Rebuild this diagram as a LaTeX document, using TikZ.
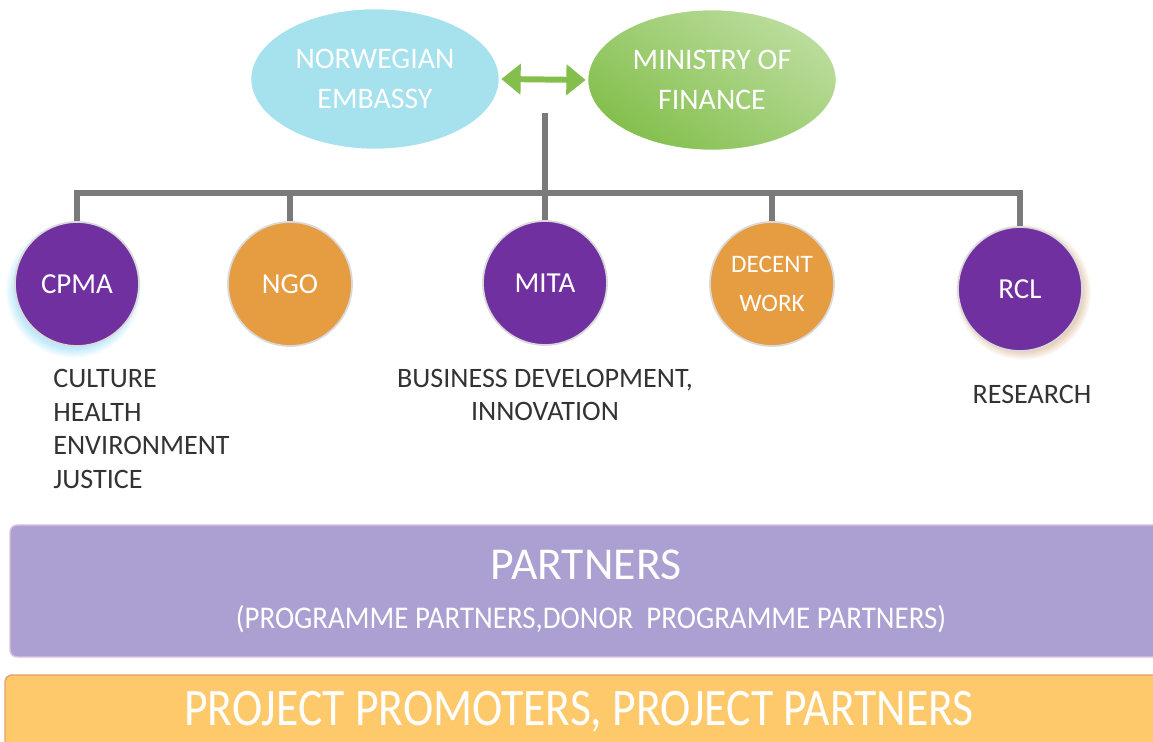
\documentclass[tikz,border=0pt]{standalone}
\usepackage{fontspec}
\setmainfont{Carlito}
\usepackage{graphicx}
\usepackage{tikz}
\usetikzlibrary{calc,positioning,arrows.meta,shapes,shadows}

\definecolor{embassyblue}{HTML}{A6E1EE}
\definecolor{financegreen}{HTML}{93C865}
\definecolor{financelight}{HTML}{BBDD9D}
\definecolor{financedark}{HTML}{84BF4D}
\definecolor{orgpurple}{HTML}{7030A0}
\definecolor{orgorange}{HTML}{E69C40}
\definecolor{linegray}{HTML}{7A7A7A}
\definecolor{partnerlilac}{HTML}{ABA0D1}
\definecolor{promoteryellow}{HTML}{FEC96B}
\definecolor{labelgray}{HTML}{333333}

\tikzset{
  topoval/.style={ellipse,minimum width=250*0.02cm,minimum height=142*0.02cm,
    draw=white,line width=1.5pt,text=white,align=center,
    font=\fontsize{17}{23}\selectfont},
  orgcircle/.style={circle,minimum size=124*0.02cm,inner sep=0pt,
    draw=white!85!black,line width=1pt,text=white,align=center,
    font=\fontsize{16.5}{22}\selectfont},
  conn/.style={draw=linegray,line width=3.4pt},
  sublabel/.style={text=labelgray,inner xsep=0pt,font=\fontsize{16}{19.3}\selectfont},
  band/.style={rounded corners=4pt,line width=0.8pt,text=white}
}

\begin{document}
\begin{tikzpicture}[x=0.02cm,y=-0.02cm]
\useasboundingbox (0,0) rectangle (1153,742);

% top level
\node at (375,79)  (embassy) [topoval,fill=embassyblue]{NORWEGIAN\\EMBASSY};
\node at (712,80)  (finance) [topoval,top color=financelight,
  bottom color=financedark,shading angle=-35]{MINISTRY OF\\FINANCE};
\draw[draw=financedark,line width=3.4pt,
  {Triangle[width=17pt,length=11pt]}-{Triangle[width=17pt,length=11pt]}]
  (embassy.east) -- (finance.west);

% programme operators
\node at (77,284)   (cpma)   [orgcircle,fill=orgpurple,
                              circular drop shadow={fill=cyan!25,shadow xshift=-2pt,
                              shadow yshift=-3pt}]{CPMA};
\node at (290,284)  (ngo)    [orgcircle,fill=orgorange]{NGO};
\node at (545,283)  (mita)   [orgcircle,fill=orgpurple]{MITA};
\node at (772,284)  (decent) [orgcircle,fill=orgorange,
                              font=\fontsize{14.3}{22}\selectfont]{DECENT\\WORK};
\node at (1020,289) (rcl)    [orgcircle,fill=orgpurple,
                              circular drop shadow={fill=brown!40}]{RCL};

\coordinate (top) at (545,113);
\coordinate (bar) at (545,193);
\draw[conn] (top) -- (mita.north);
\draw[conn] (cpma.north) |- (bar) -| (rcl.north);
\draw[conn] (ngo.north) -- (ngo.north |- bar);
\draw[conn] (decent.north) -- (decent.north |- bar);

% areas
\node at (53,429) (cpmaareas) [sublabel,anchor=west,align=left]{%
  CULTURE\\HEALTH\\ENVIRONMENT\\JUSTICE};
\node at (545,395) (mitaareas) [sublabel,align=center]{%
  BUSINESS DEVELOPMENT,\\INNOVATION};
\node at (1032,394) (rclareas) [sublabel]{RESEARCH};

% partner bands
\draw[band,fill=partnerlilac,draw=violet!25] (10,525) rectangle (1165,657);
\node at (586,565) (partners) [text=white,font=\fontsize{26}{30}\selectfont]{PARTNERS};
\node at (591,619) (partnerkinds) [text=white,font=\fontsize{18}{22}\selectfont]{%
  \scalebox{0.915}[1]{(PROGRAMME PARTNERS,DONOR\ \ PROGRAMME PARTNERS)}};
\draw[band,fill=promoteryellow,draw=promoteryellow!80!violet] (5,675) rectangle (1165,760);
\node at (579,712) (promoters) [text=white,font=\fontsize{30}{34}\selectfont]{%
  \scalebox{0.866}[1]{PROJECT PROMOTERS, PROJECT PARTNERS}};
\end{tikzpicture}
\end{document}
